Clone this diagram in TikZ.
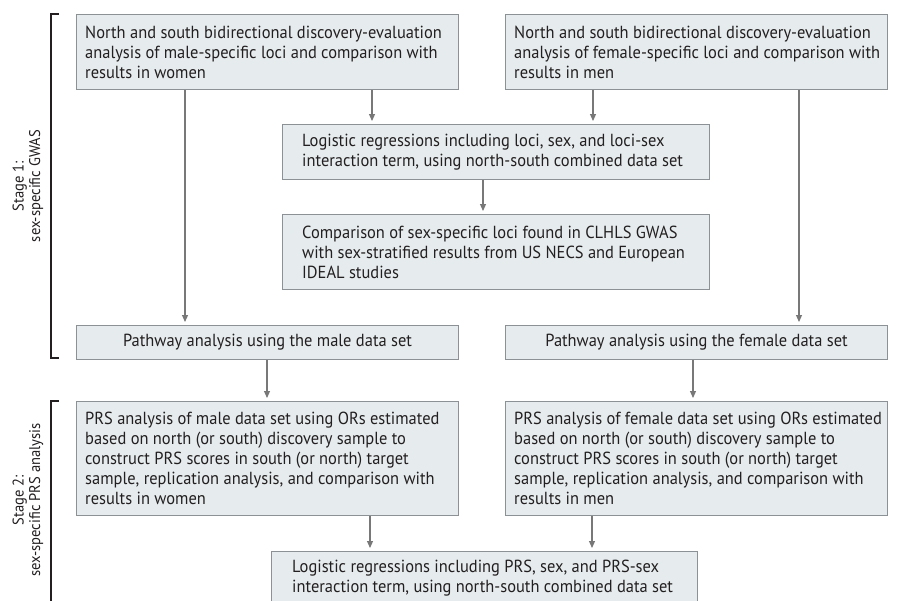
\documentclass[tikz,border=0pt]{standalone}
\usepackage{fontspec}
\setmainfont{PT Sans}[FakeStretch=0.94]
\usetikzlibrary{arrows.meta}
\definecolor{boxfill}{RGB}{230,236,238}
\definecolor{boxline}{RGB}{140,145,149}
\definecolor{arrcol}{RGB}{120,120,120}
\definecolor{txtcol}{RGB}{35,31,32}
\begin{document}
\begin{tikzpicture}[x=1pt,y=-1pt,
  box/.style={draw=boxline, fill=boxfill, line width=1.1pt, anchor=north west,
    inner sep=0pt, text=txtcol, font=\fontsize{17.5}{20}\selectfont},
  sidebox/.style={box, minimum width=382pt},
  midbox/.style={box, minimum width=427pt},
  pathbox/.style={box, minimum width=382pt, minimum height=34pt, align=center},
  boxtext/.style={anchor=west, align=left, inner sep=0pt, text=txtcol, font=\fontsize{17.5}{20}\selectfont},
  conn/.style={draw=arrcol, line width=1.1pt, -{Triangle[width=6pt,length=7pt]}, shorten >=3pt},
  bracket/.style={draw=txtcol, line width=1.1pt},
  stagelabel/.style={rotate=90, align=center, text=txtcol, font=\fontsize{15.5}{16.5}\selectfont}
]
\clip (0,0) rectangle (899,600);
\fill[white] (0,0) rectangle (899,600);

% Stage 1
\node[sidebox, minimum height=75pt] (A) at (76,14) {};
\node[boxtext] (At) at ([xshift=9pt]A.west) {North and south bidirectional discovery-evaluation\\analysis of male-specific loci and comparison with\\results in women};
\node[sidebox, minimum height=75pt] (B) at (505,14) {};
\node[boxtext] (Bt) at ([xshift=9pt]B.west) {North and south bidirectional discovery-evaluation\\analysis of female-specific loci and comparison with\\results in men};
\node[midbox, minimum height=55pt] (L1) at (282,124) {};
\node[boxtext] (L1t) at ([xshift=20pt]L1.west) {Logistic regressions including loci, sex, and loci-sex\\interaction term, using north-south combined data set};
\node[midbox, minimum height=75pt] (C) at (282,214) {};
\node[boxtext] (Ct) at ([xshift=20pt]C.west) {Comparison of sex-specific loci found in CLHLS GWAS\\with sex-stratified results from US NECS and European\\IDEAL studies};
\node[pathbox] (PM) at (76,325) {Pathway analysis using the male data set};
\node[pathbox] (PF) at (505,325) {Pathway analysis using the female data set};

% Stage 2
\node[sidebox, minimum height=114pt] (RM) at (76,401) {};
\node[boxtext] (RMt) at ([xshift=9pt]RM.west) {PRS analysis of male data set using ORs estimated\\based on north (or south) discovery sample to\\construct PRS scores in south (or north) target\\sample, replication analysis, and comparison with\\results in women};
\node[sidebox, minimum height=114pt] (RF) at (505,401) {};
\node[boxtext] (RFt) at ([xshift=9pt]RF.west) {PRS analysis of female data set using ORs estimated\\based on north (or south) discovery sample to\\construct PRS scores in south (or north) target\\sample, replication analysis, and comparison with\\results in men};
\node[box, minimum width=426pt, minimum height=53pt] (BT) at (271,551) {};
\node[boxtext] (BTt) at ([xshift=21pt]BT.west) {Logistic regressions including PRS, sex, and PRS-sex\\interaction term, using north-south combined data set};

% connector x positions
\coordinate (xa) at (185,0);
\coordinate (xb) at (372,0);
\coordinate (xc) at (593,0);
\coordinate (xd) at (799,0);
\coordinate (xe) at (483,0);
\coordinate (xf) at (267,0);
\coordinate (xg) at (693,0);
\coordinate (xh) at (370,0);
\coordinate (xi) at (592,0);

\draw[conn] (A.south -| xa) -- (PM.north -| xa);
\draw[conn] (A.south -| xb) -- (L1.north -| xb);
\draw[conn] (B.south -| xc) -- (L1.north -| xc);
\draw[conn] (B.south -| xd) -- (PF.north -| xd);
\draw[conn] (L1.south -| xe) -- (C.north -| xe);
\draw[conn] (PM.south -| xf) -- (RM.north -| xf);
\draw[conn] (PF.south -| xg) -- (RF.north -| xg);
\draw[conn] (RM.south -| xh) -- (BT.north -| xh);
\draw[conn] (RF.south -| xi) -- (BT.north -| xi);

% brackets
\draw[bracket] (59,14) -- (51,14) -- (51,358) -- (59,358);
\draw[bracket] (59,401) -- (51,401) -- (51,605);

% stage labels
\node[stagelabel] (S1) at (28,186) {Stage 1:\\sex-specific GWAS};
\node[stagelabel] (S2) at (28,500) {Stage 2:\\sex-specific PRS analysis};
\end{tikzpicture}
\end{document}
